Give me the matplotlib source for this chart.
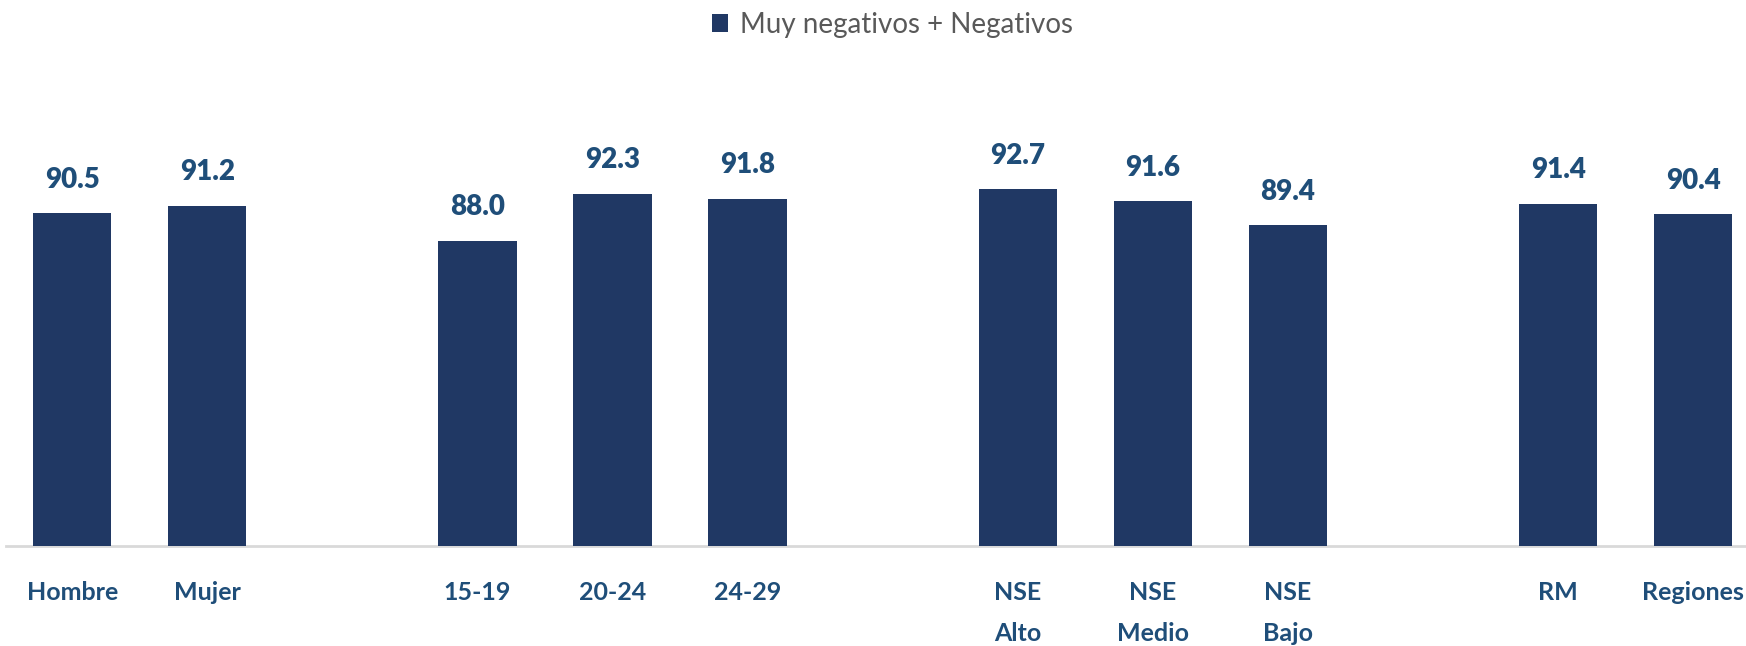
import matplotlib.pyplot as plt
import numpy as np

categorias = ['Hombre', 'Mujer', '', '15-19', '20-24', '24-29', '',
              'NSE\nAlto', 'NSE\nMedio', 'NSE\nBajo', '', 'RM', 'Regiones']
valores = [90.5, 91.2, np.nan, 88.0, 92.3, 91.8, np.nan,
           92.7, 91.6, 89.4, np.nan, 91.4, 90.4]
serie = 'Muy negativos + Negativos'

color_barra = '#203864'
color_texto = '#1F4E79'

plt.rcParams['font.family'] = ['Lato', 'DejaVu Sans']

fig = plt.figure(figsize=(17.46, 6.46), dpi=100)
ax = fig.add_axes([0.0034, 0.155, 0.9966, 0.675])

x = np.arange(len(categorias))
bars = ax.bar(x, valores, width=0.58, color=color_barra, label=serie, zorder=3)

for xi, v in zip(x, valores):
    if np.isnan(v):
        continue
    ax.annotate(f'{v:.1f}', (xi, v), xytext=(0, 15), textcoords='offset points',
                ha='center', va='bottom', fontsize=20, fontweight='heavy',
                color=color_texto)

ax.set_ylim(60, 100)
ax.set_xlim(-0.49, 12.39)
ax.set_yticks([])
ax.set_xticks([i for i in x if categorias[i]])
ax.set_xticklabels([c for c in categorias if c], fontsize=18, fontweight='bold',
                   color=color_texto, linespacing=1.95)
ax.tick_params(axis='x', length=0, pad=25)

for s in ['top', 'right', 'left']:
    ax.spines[s].set_visible(False)
ax.spines['bottom'].set_color('#D9D9D9')
ax.spines['bottom'].set_linewidth(2)

fig.legend(loc='center', bbox_to_anchor=(0.511, 0.962), frameon=False,
           fontsize=20, handlelength=0.6, handleheight=0.6, handletextpad=0.4,
           labelcolor='#595959')

fig.savefig('out.png', dpi=100)
